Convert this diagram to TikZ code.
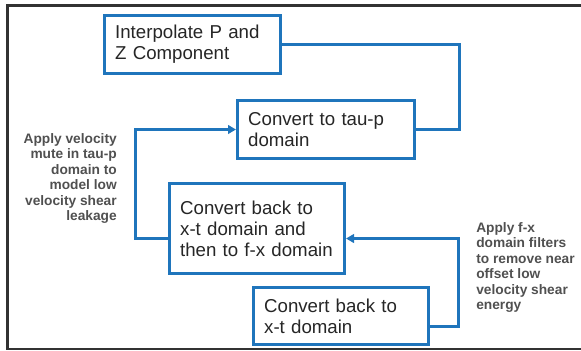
\documentclass[tikz,border=0pt]{standalone}
\usepackage{fontspec}
\setmainfont{Liberation Sans}
\usetikzlibrary{arrows.meta,calc}
\definecolor{flowblue}{RGB}{31,117,188}
\definecolor{notegray}{RGB}{80,80,80}
\definecolor{framegray}{RGB}{50,50,50}
\begin{document}
\begin{tikzpicture}[x=0.75pt,y=0.75pt,yscale=-1,xscale=1,
  stepbox/.style={draw=flowblue,line width=2.25pt,fill=white,anchor=north west,align=left,
    inner xsep=8pt,text=black!85,font=\fontsize{14}{15.75}\selectfont},
  sidenote/.style={inner sep=0pt,text=notegray,font=\fontsize{10.3}{11.55}\selectfont\bfseries},
  link/.style={draw=flowblue,line width=2.25pt},
  flowarrow/.style={link,-{Triangle[length=6pt,width=6.5pt]}}]
\useasboundingbox (0,0) rectangle (581,350);

%Frame (open on the right)
\draw [color=framegray,line width=2.1pt] (581,5.5) -- (7.5,5.5) -- (7.5,349) -- (581,349) ;

%Process boxes
\node [stepbox,text width=116pt,minimum height=43.5pt] (interp) at (103,14) {Interpolate P and\\Z Component};
\node [stepbox,text width=116.75pt,minimum height=43.5pt] (taup) at (236,99) {Convert to tau-p\\domain};
\node [stepbox,text width=115.25pt,minimum height=67.5pt] (fx) at (168,182) {Convert back to\\x-t domain and\\then to f-x domain};
\node [stepbox,text width=115.25pt,minimum height=42.75pt] (xt) at (252,286) {Convert back to\\x-t domain};

%Side notes
\node [sidenote,anchor=east,align=right] (mutenote) at (117,178.5) {Apply velocity\\mute in tau-p\\domain to\\model low\\velocity shear\\leakage};
\node [sidenote,anchor=west,align=left] (filternote) at (476,267.5) {Apply f-x\\domain filters\\to remove near\\offset low\\velocity shear\\energy};

%Connectors
\coordinate (rtop) at (459,0);
\coordinate (left) at (135,0);
\coordinate (rbot) at (458,0);
\coordinate (fxin) at ([yshift=7.5pt]fx.east);
\coordinate (fxout) at ([yshift=7.5pt]fx.west);
\coordinate (xtout) at ([yshift=8pt]xt.east);
\draw [link] (interp.east) -| (rtop |- taup.east) -- (taup.east) ;
\draw [flowarrow] (fxout) -| (left |- taup.west) -- (taup.west) ;
\draw [flowarrow] (xtout) -| (rbot |- fxin) -- (fxin) ;
\end{tikzpicture}
\end{document}
